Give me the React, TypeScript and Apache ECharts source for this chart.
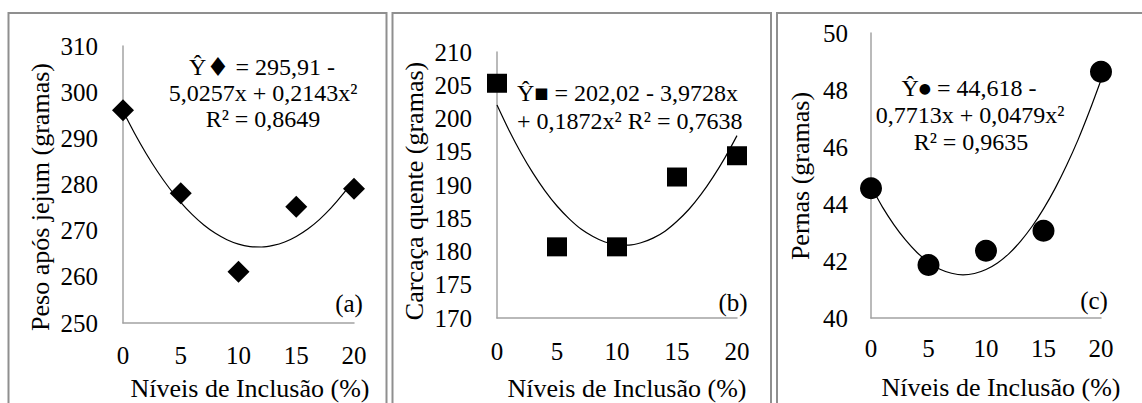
import React, { useEffect, useRef } from "react";
import * as echarts from "echarts";

// Inclusion levels (%)
const levels = [0, 5, 10, 15, 20];
const pesoJejum = [296.1, 278.1, 261.1, 275.2, 279.1];
const carcacaQuente = [205.3, 180.7, 180.7, 191.2, 194.4];
const pernas = [44.55, 41.86, 42.36, 43.06, 48.64];

// Fitted trend curves
const trendX = [0, 1, 2, 3, 4, 5, 6, 7, 8, 9, 10, 11, 12, 13, 14, 15, 16, 17, 18, 19, 20];
const pesoTrend = [295.91, 291.1, 286.72, 282.76, 279.24, 276.14, 273.47, 271.23, 269.42, 268.04, 267.08, 266.56, 266.46, 266.8, 267.54, 268.74, 270.35, 272.4, 274.87, 277.78, 281.12];
const carcacaTrend = [202.02, 198.23, 194.82, 191.79, 189.13, 186.84, 184.95, 183.38, 182.26, 181.42, 181.01, 180.97, 181.31, 182.01, 183.06, 184.55, 186.35, 188.58, 191.19, 194.12, 197.42];
const pernasTrend = [44.62, 43.89, 43.27, 42.74, 42.3, 41.96, 41.71, 41.57, 41.51, 41.56, 41.7, 41.93, 42.26, 42.69, 43.21, 43.83, 44.54, 45.35, 46.25, 47.26, 48.35];

// Axis ranges
const xRange = [0, 20, 5];
const yRangeA = [250, 310, 10];
const yRangeB = [170, 210, 5];
const yRangeC = [40, 50, 2];

// Texts
const xTitle = "Níveis de Inclusão (%)";
const yTitles = ["Peso após jejum (gramas)", "Carcaça quente (gramas)", "Pernas (gramas)"];
const panelTags = ["(a)", "(b)", "(c)"];

const FONT = "Liberation Serif";
const AXIS_GRAY = "#a3a3a3";
const BORDER_GRAY = "#8f8f8f";

export default function App() {
  const ref = useRef<HTMLDivElement>(null);

  useEffect(() => {
    if (!ref.current) return;
    const chart = echarts.init(ref.current, undefined, { renderer: "svg" });

    const grids = [
      { left: 123, top: 46, width: 231, height: 277 },
      { left: 497, top: 52, width: 240, height: 266 },
      { left: 871, top: 33, width: 230, height: 285 },
    ];
    const yRanges = [yRangeA, yRangeB, yRangeC];
    const xMargins = [20, 21, 18];

    const xAxes = grids.map((_, i) => ({
      type: "value",
      gridIndex: i,
      min: xRange[0],
      max: xRange[1],
      interval: xRange[2],
      axisLine: { show: true, onZero: false, lineStyle: { color: AXIS_GRAY, width: 1.5 } },
      axisTick: { show: false },
      splitLine: { show: false },
      axisLabel: { color: "#000", fontFamily: FONT, fontSize: 25, margin: xMargins[i] },
    }));
    const yAxes = grids.map((_, i) => ({
      type: "value",
      gridIndex: i,
      min: yRanges[i][0],
      max: yRanges[i][1],
      interval: yRanges[i][2],
      axisLine: { show: true, onZero: false, lineStyle: { color: AXIS_GRAY, width: 1.5 } },
      axisTick: { show: false },
      splitLine: { show: false },
      axisLabel: { color: "#000", fontFamily: FONT, fontSize: 25, margin: i === 2 ? 23 : 25 },
    }));

    const obs = [pesoJejum, carcacaQuente, pernas];
    const trends = [pesoTrend, carcacaTrend, pernasTrend];
    const symbols = ["diamond", "rect", "circle"];
    const symbolSizes = [[22, 22], [20, 19], [22, 22]];

    const series: any[] = [];
    for (let i = 0; i < 3; i++) {
      series.push({
        type: "line",
        xAxisIndex: i,
        yAxisIndex: i,
        data: trendX.map((x, k) => [x, trends[i][k]]),
        smooth: 0.3,
        showSymbol: false,
        lineStyle: { color: "#000", width: 1.2 },
        z: 2,
      });
      series.push({
        type: "scatter",
        xAxisIndex: i,
        yAxisIndex: i,
        data: levels.map((x, k) => [x, obs[i][k]]),
        symbol: symbols[i],
        symbolSize: symbolSizes[i],
        itemStyle: { color: "#000", opacity: 1 },
        z: 3,
      });
    }

    const txt = (x: number, y: number, text: string, size = 24, extra: any = {}) => ({
      type: "text",
      x,
      y,
      style: {
        text,
        fill: "#000",
        fontFamily: FONT,
        fontSize: size,
        align: "center",
        verticalAlign: "middle",
        ...extra,
      },
    });
    const symRich = {
      d: { fontSize: 26, fontFamily: "DejaVu Sans", fill: "#000" },
      s: { fontSize: 15, fontFamily: "DejaVu Sans", fill: "#000" },
      c: { fontSize: 14, fontFamily: "DejaVu Sans", fill: "#000" },
    };

    const graphic: any[] = [
      // panel borders
      { type: "rect", shape: { x: 8.5, y: 13, width: 378, height: 420 }, style: { fill: "none", stroke: BORDER_GRAY, lineWidth: 2 } },
      { type: "rect", shape: { x: 392.5, y: 13, width: 378.5, height: 420 }, style: { fill: "none", stroke: BORDER_GRAY, lineWidth: 2 } },
      { type: "rect", shape: { x: 777, y: 13, width: 420, height: 420 }, style: { fill: "none", stroke: BORDER_GRAY, lineWidth: 2 } },
      // y titles
      { ...txt(40, 197, yTitles[0], 26), rotation: Math.PI / 2 },
      { ...txt(414, 191, yTitles[1], 26), rotation: Math.PI / 2 },
      { ...txt(800, 176, yTitles[2], 26), rotation: Math.PI / 2 },
      // x titles
      txt(250, 388, xTitle, 26),
      txt(627, 388, xTitle, 26),
      txt(1001, 387, xTitle, 26),
      // panel tags
      txt(349, 303, panelTags[0], 25),
      txt(733, 302, panelTags[1], 25),
      txt(1094, 300, panelTags[2], 25),
      // equations panel a
      txt(262, 67, "Ŷ{d|♦} = 295,91 -", 24, { rich: symRich }),
      txt(263, 93, "5,0257x + 0,2143x²"),
      txt(263, 119, "R² = 0,8649"),
      // equations panel b
      txt(517, 93, "Ŷ{s|■} = 202,02 - 3,9728x", 24, { align: "left", rich: symRich }),
      txt(517, 121, "+ 0,1872x² R² = 0,7638", 24, { align: "left" }),
      // equations panel c
      txt(969, 88, "Ŷ{c|●} = 44,618 -", 24, { rich: symRich }),
      txt(970, 115, "0,7713x + 0,0479x²"),
      txt(971, 142, "R² = 0,9635"),
    ];

    chart.setOption({
      animation: false,
      backgroundColor: "#fff",
      textStyle: { fontFamily: FONT },
      grid: grids.map((g) => ({ ...g, containLabel: false })),
      xAxis: xAxes,
      yAxis: yAxes,
      series,
      graphic,
    });

    return () => chart.dispose();
  }, []);

  return (
    <div
      ref={ref}
      style={{ position: "absolute", left: 0, top: 0, width: 1142, height: 403, background: "#fff" }}
    />
  );
}
